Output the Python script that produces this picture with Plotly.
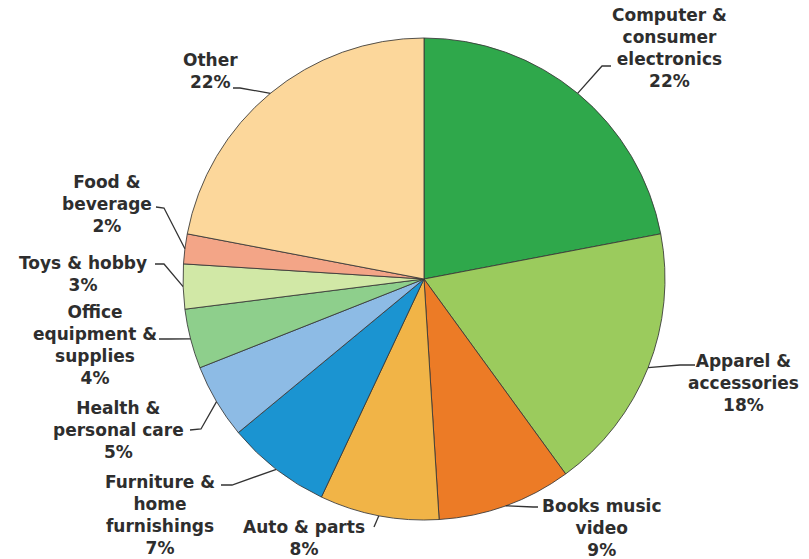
import math
import plotly.graph_objects as go

# Online sales share by category, clockwise from 12 o'clock
categories = [
    "Computer & consumer electronics",
    "Apparel & accessories",
    "Books music video",
    "Auto & parts",
    "Furniture & home furnishings",
    "Health & personal care",
    "Office equipment & supplies",
    "Toys & hobby",
    "Food & beverage",
    "Other",
]
shares = [22, 18, 9, 8, 7, 5, 4, 3, 2, 22]

# How each category name is broken over lines in its label
label_lines = [
    ["Computer &", "consumer", "electronics"],
    ["Apparel &", "accessories"],
    ["Books music", "video"],
    ["Auto & parts"],
    ["Furniture &", "home", "furnishings"],
    ["Health &", "personal care"],
    ["Office", "equipment &", "supplies"],
    ["Toys & hobby"],
    ["Food &", "beverage"],
    ["Other"],
]

slice_colors = [
    "#2fa84b", "#9bcb5d", "#ec7b26", "#f1b447", "#1b94d1",
    "#8dbbe5", "#8ecf8c", "#d1e8a6", "#f3a587", "#fcd79b",
]

W, H = 809, 559
CX, CY, R = 424, 279, 241  # pie centre and radius in pixels

# Label block centres (pixels) and the leader-line bends near each label
label_pos = [
    (669, 48), (743, 383), (602, 528), (304, 538), (160, 515),
    (118, 430), (95, 345), (83, 274), (107, 204), (210, 71),
]
leader_bends = [
    [(602, 66), (611, 66)],
    [(680, 365), (695, 365)],
    [(533, 507), (538, 507)],
    [(374, 527)],
    [(232, 485), (221, 485)],
    [(201, 429), (190, 430)],
    [(168, 339), (159, 339)],
    [(164, 264), (155, 264)],
    [(164, 208), (156, 207)],
    [(240, 88), (233, 88)],
]


def px(x):
    return x / W


def py(y):
    return 1 - y / H


fig = go.Figure(
    go.Pie(
        labels=categories,
        values=shares,
        sort=False,
        direction="clockwise",
        rotation=0,
        textinfo="none",
        hoverinfo="label+percent",
        marker=dict(colors=slice_colors, line=dict(color="rgba(55,55,55,0.85)", width=1)),
        domain=dict(x=[px(CX - R), px(CX + R)], y=[py(CY + R), py(CY - R)]),
        showlegend=False,
    )
)

total = sum(shares)
annotations = []
shapes = []
cum = 0.0
for name_lines, v, (lx, ly), bends in zip(label_lines, shares, label_pos, leader_bends):
    mid = (cum + v / 2) / total * 2 * math.pi
    cum += v
    tip = (CX + R * math.sin(mid), CY - R * math.cos(mid))
    pts = [tip] + bends
    path = "M " + " L ".join(f"{px(x):.5f},{py(y):.5f}" for x, y in pts)
    shapes.append(dict(type="path", xref="paper", yref="paper", path=path,
                       line=dict(color="#333333", width=1.3)))
    text = "<br>".join(name_lines + [f"{v}%"])
    annotations.append(dict(
        x=px(lx), y=py(ly), xref="paper", yref="paper",
        text=text, showarrow=False, xanchor="center", yanchor="middle",
        align="center",
        font=dict(family="DejaVu Sans", size=17, color="#2e2e2e", weight="bold"),
    ))

fig.update_layout(
    width=W, height=H,
    margin=dict(l=0, r=0, t=0, b=0),
    paper_bgcolor="white",
    plot_bgcolor="white",
    annotations=annotations,
    shapes=shapes,
)

fig.write_html("out.html")
